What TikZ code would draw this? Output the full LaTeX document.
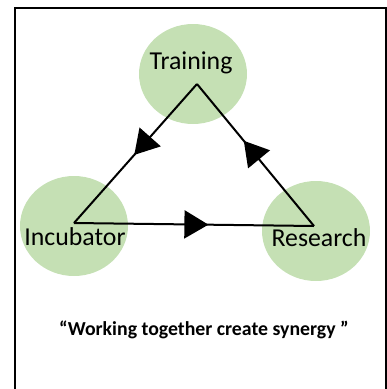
\documentclass[tikz,border=0pt]{standalone}
\usepackage{fontspec}
\setmainfont{Carlito}
\usetikzlibrary{arrows.meta,decorations.markings,shapes.geometric}
\definecolor{blobgreen}{HTML}{C5E0B4}
\tikzset{
  blob/.style={ellipse, fill=blobgreen, minimum width=108pt, minimum height=100pt, inner sep=0pt},
  lbl/.style={font=\fontsize{25.8}{30}\selectfont, inner sep=0pt, text=black},
  conn/.style={line width=2pt, black},
  midarrow/.style={postaction={decorate}, decoration={markings, mark=at position #1 with {\arrow{Triangle[length=24pt,width=28pt]}}}}
}
\begin{document}
\begin{tikzpicture}[x=1pt,y=-1pt]
\useasboundingbox (0,0) rectangle (387,389);
\draw[line width=2pt] (15,392) -- (15,8) -- (386,8) -- (386,392);
\node[blob] (ctrain) at (193,74) {};
\node[blob] (cinc) at (74,226) {};
\node[blob] (cres) at (316,231) {};
\coordinate (vtop) at (197,84);
\coordinate (vleft) at (74,223);
\coordinate (vright) at (314,226);
\draw[conn, midarrow=0.51] (vtop) -- (vleft);
\draw[conn, midarrow=0.56] (vleft) -- (vright);
\draw[conn, midarrow=0.6] (vright) -- (vtop);
\node[lbl] (ttrain) at (191,63) {Training};
\node[lbl] (tinc) at (75,237) {Incubator};
\node[lbl] (tres) at (319,238) {Research};
\node[font=\bfseries\fontsize{19.8}{24}\selectfont, inner sep=0pt] (quote) at (204,330) {“Working together create synergy ”};
\end{tikzpicture}
\end{document}
